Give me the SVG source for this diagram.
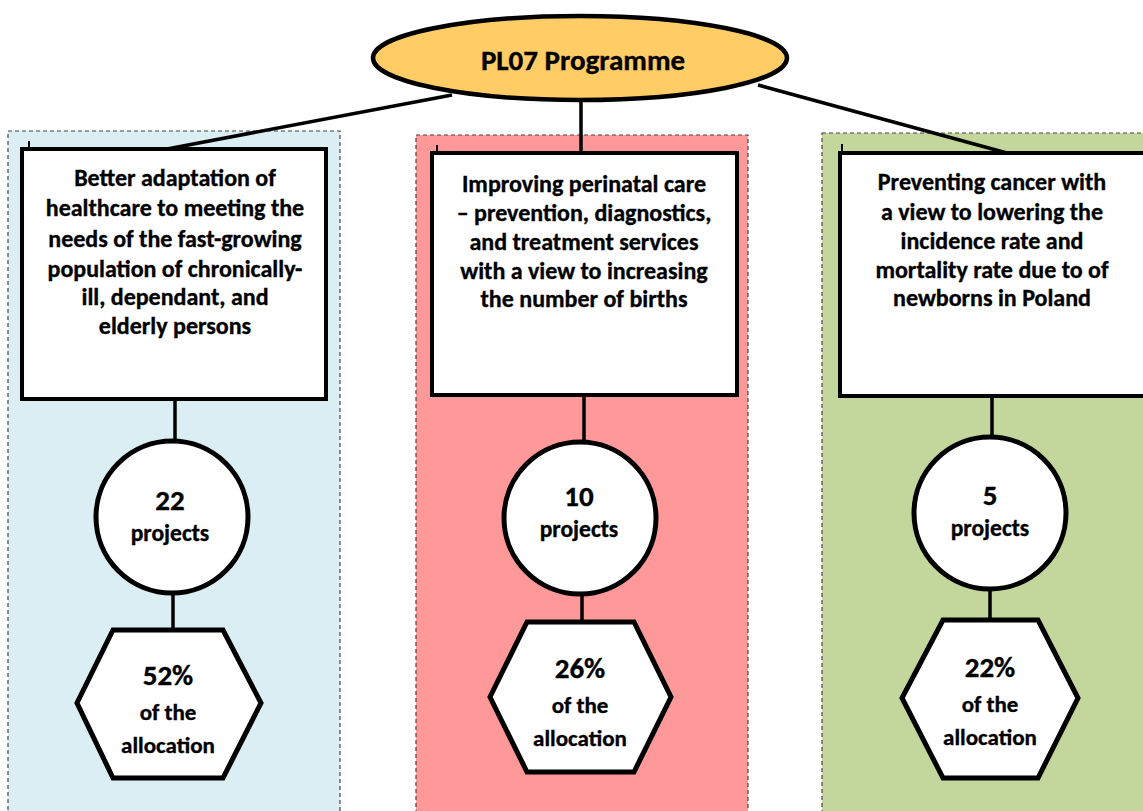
<svg xmlns="http://www.w3.org/2000/svg" width="1143" height="811" viewBox="0 0 1143 811">
<style>
.panel{stroke:#444;stroke-width:1.2;stroke-dasharray:4 3}
.box{fill:#fff;stroke:#000;stroke-width:4}
.shape{fill:#fff;stroke:#000;stroke-width:5}
.conn{stroke:#000;stroke-width:3.5;fill:none}
.tick{stroke:#000;stroke-width:2}
text{font-family:Carlito,Lato,"Liberation Sans",sans-serif;font-weight:bold;fill:#000;stroke:#000;stroke-width:0.35;text-anchor:middle;dominant-baseline:central}
.t{font-size:24px}
.p{font-size:23.5px}
.h{font-size:23px}
.big{font-size:29px}
</style>
<rect class="panel" x="8" y="131" width="332" height="690" fill="#DAEEF3"/>
<rect class="panel" x="416" y="135" width="332" height="690" fill="#FF9999"/>
<rect class="panel" x="822" y="133" width="340" height="690" fill="#C3D69B"/>
<g id="connectors">
<line class="conn" x1="452" y1="95" x2="167" y2="149"/>
<line class="conn" x1="581" y1="100" x2="581" y2="153"/>
<line class="conn" x1="758" y1="85" x2="1007" y2="153"/>
<line class="conn" x1="175" y1="399" x2="175" y2="445"/>
<line class="conn" x1="173" y1="592" x2="173" y2="630"/>
<line class="conn" x1="584" y1="395" x2="584" y2="444"/>
<line class="conn" x1="582" y1="593" x2="582" y2="622"/>
<line class="conn" x1="992" y1="396" x2="992" y2="437"/>
<line class="conn" x1="990" y1="590" x2="990" y2="620"/>
</g>
<g id="programme">
<ellipse cx="580" cy="58" rx="207" ry="42" fill="#FFCC66" stroke="#000" stroke-width="4.5"/>
<text x="583" y="60" class="big">PL07 Programme</text>
</g>
<g id="goal1">
<line class="tick" x1="29" y1="141" x2="29" y2="149"/>
<rect class="box" x="22" y="149" width="304" height="250"/>
<text class="t" x="175" y="177">Better adaptation of</text>
<text class="t" x="175" y="207">healthcare to meeting the</text>
<text class="t" x="175" y="238">needs of the fast-growing</text>
<text class="t" x="175" y="268">population of chronically-</text>
<text class="t" x="175" y="296">ill, dependant, and</text>
<text class="t" x="175" y="325">elderly persons</text>
</g>
<g id="goal2">
<line class="tick" x1="437" y1="145" x2="437" y2="153"/>
<rect class="box" x="432" y="153" width="305" height="242"/>
<text class="t" x="584" y="183">Improving perinatal care</text>
<text class="t" x="584" y="212">– prevention, diagnostics,</text>
<text class="t" x="584" y="241">and treatment services</text>
<text class="t" x="584" y="270">with a view to increasing</text>
<text class="t" x="584" y="298">the number of births</text>
</g>
<g id="goal3">
<line class="tick" x1="842" y1="144" x2="842" y2="153"/>
<rect class="box" x="840" y="153" width="310" height="243"/>
<text class="t" x="992" y="181">Preventing cancer with</text>
<text class="t" x="992" y="211">a view to lowering the</text>
<text class="t" x="992" y="240">incidence rate and</text>
<text class="t" x="992" y="269">mortality rate due to of</text>
<text class="t" x="992" y="297">newborns in Poland</text>
</g>
<g id="projects1">
<circle class="shape" cx="172" cy="517" r="76"/>
<text class="big" x="170" y="500">22</text>
<text class="p" x="170" y="533">projects</text>
</g>
<g id="projects2">
<circle class="shape" cx="580" cy="518" r="76"/>
<text class="big" x="579" y="496">10</text>
<text class="p" x="579" y="529">projects</text>
</g>
<g id="projects3">
<circle class="shape" cx="990" cy="513" r="76"/>
<text class="big" x="990" y="495">5</text>
<text class="p" x="990" y="528">projects</text>
</g>
<g id="alloc1">
<polygon class="shape" points="113,630 223,630 261,703 223,778 113,778 77,703"/>
<text class="big" x="168" y="675">52%</text>
<text class="h" x="168" y="712">of the</text>
<text class="h" x="168" y="745">allocation</text>
</g>
<g id="alloc2">
<polygon class="shape" points="527,622 634,622 671,697 634,772 527,772 490,697"/>
<text class="big" x="580" y="668">26%</text>
<text class="h" x="580" y="705">of the</text>
<text class="h" x="580" y="738">allocation</text>
</g>
<g id="alloc3">
<polygon class="shape" points="943,620 1038,620 1078,698 1038,778 943,778 902,698"/>
<text class="big" x="990" y="667">22%</text>
<text class="h" x="990" y="704">of the</text>
<text class="h" x="990" y="737">allocation</text>
</g>
</svg>
